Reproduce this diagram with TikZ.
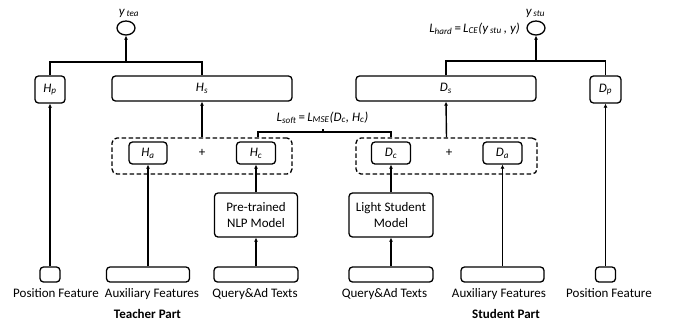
\documentclass[tikz,border=0pt]{standalone}
\usepackage{fontspec}
\setmainfont{Carlito}
\usetikzlibrary{arrows.meta,shapes.geometric}
\newcommand\lsub[2]{\textit{#1}\textsubscript{\textit{#2}}}
\begin{document}
\begin{tikzpicture}[x=1pt,y=-1pt,
  font=\fontsize{13}{16}\selectfont,
  box/.style={draw,line width=1.3pt,rounded corners=3.5pt,inner sep=0pt,align=center},
  dbox/.style={draw,line width=1.3pt,rounded corners=5pt,dash pattern=on 4.5pt off 2.5pt,inner sep=0pt},
  outc/.style={draw,line width=1.3pt,ellipse,minimum width=18pt,minimum height=14pt,inner sep=0pt},
  ln/.style={line width=1.4pt},
  arr/.style={line width=1.4pt,-{Latex[length=4pt,width=4pt]}},
  lab/.style={inner sep=0pt,anchor=base}]
\useasboundingbox (0,0) rectangle (681,325);
% ---------------- Teacher ----------------
\node[outc] (ytea) at (126,28) {};
\node[lab] (yteal) at (129,15) {\lsub{y}{\,tea}};
\node[box,minimum width=30pt,minimum height=27pt] (Hp) at (50,89.5) {\lsub{H}{p}};
\node[box,minimum width=180pt,minimum height=25pt] (Hs) at (202,88.5) {\lsub{H}{s}};
\node[dbox,minimum width=180pt,minimum height=36pt] (dashT) at (202,156) {};
\node[box,minimum width=38pt,minimum height=22pt] (Ha) at (148,153) {\lsub{H}{a}};
\node (plusT) at (202,153) {+};
\node[box,minimum width=39pt,minimum height=22pt] (Hc) at (256,153) {\lsub{H}{c}};
\node[box,minimum width=83pt,minimum height=44pt] (PT) at (256,215) {Pre-trained\\NLP Model};
\node[box,minimum width=20pt,minimum height=15pt] (posT) at (50,274.5) {};
\node[box,minimum width=83pt,minimum height=15pt] (auxT) at (148,274.5) {};
\node[box,minimum width=84pt,minimum height=15pt] (qT) at (256,274.5) {};
\node[lab] (posTl) at (56,297) {Position Feature};
\node[lab] (auxTl) at (152,297) {Auxiliary Features};
\node[lab] (qTl) at (255,297) {Query\&Ad Texts};
\node[lab] (tpart) at (147.5,318) {\bfseries Teacher Part};
% ---------------- Student ----------------
\node[outc] (ystu) at (536,28) {};
\node[lab] (ystul) at (535.5,15) {\lsub{y}{\,stu}};
\node[lab,anchor=base east] (lhard) at (520,32) {\lsub{L}{hard}\,=\,\lsub{L}{CE}\textit{(}\lsub{y}{\,stu}\textit{\,, y)}};
\node[box,minimum width=180pt,minimum height=25pt] (Ds) at (446,88.5) {\lsub{D}{s}};
\node[box,minimum width=31pt,minimum height=27pt] (Dp) at (605.5,89.5) {\lsub{D}{p}};
\node[dbox,minimum width=181pt,minimum height=36pt] (dashS) at (446.5,156) {};
\node[box,minimum width=39pt,minimum height=22pt] (Dc) at (391,153) {\lsub{D}{c}};
\node (plusS) at (449,153) {+};
\node[box,minimum width=39pt,minimum height=22pt] (Da) at (502.5,153) {\lsub{D}{a}};
\node[box,minimum width=84pt,minimum height=44pt] (LS) at (391,215) {Light Student\\Model};
\node[box,minimum width=84pt,minimum height=15pt] (qS) at (391,274.5) {};
\node[box,minimum width=83pt,minimum height=15pt] (auxS) at (502.5,274.5) {};
\node[box,minimum width=20pt,minimum height=15pt] (posS) at (605.5,274.5) {};
\node[lab] (qSl) at (384.5,297) {Query\&Ad Texts};
\node[lab] (auxSl) at (499,297) {Auxiliary Features};
\node[lab] (posSl) at (609,297) {Position Feature};
\node[lab] (spart) at (506,318) {\bfseries Student Part};
% ---------------- soft loss ----------------
\coordinate (sJ) at (323,132);
\node[lab] (lsoft) at (322.5,121) {\lsub{L}{soft}\,=\,\lsub{L}{MSE}\textit{(}\lsub{D}{c}\textit{, }\lsub{H}{c}\textit{)}};
% ---------------- connectors teacher ----------------
\draw[arr] (posT.north) -- (Hp.south);
\draw[arr] (auxT.north) -- (Ha.south);
\draw[arr] (qT.north) -- (PT.south);
\draw[arr] (PT.north) -- (Hc.south);
\draw[arr] (dashT.north) -- (Hs.south);
\coordinate (jT) at (126,62);
\draw[ln] (Hp.north) -- (Hp.north |- jT) -- (Hs.north |- jT) -- (Hs.north);
\draw[arr] (jT) -- (ytea.south);
% ---------------- connectors student ----------------
\draw[arr] (posS.north) -- (Dp.south);
\draw[arr] (auxS.north) -- (Da.south);
\draw[arr] (qS.north) -- (LS.south);
\draw[arr] (LS.north) -- (Dc.south);
\draw[arr] (dashS.north) -- (Ds.south);
\coordinate (jS) at (536,61);
\draw[ln] (Ds.north) -- (Ds.north |- jS) -- (Dp.north |- jS) -- (Dp.north);
\draw[arr] (jS) -- (ystu.south);
% ---------------- soft connector ----------------
\draw[ln] ([xshift=2pt]dashT.north -| Hc.north) |- (sJ) -| (dashS.north -| Dc.north);
\draw[ln] (sJ) -- ++(0,-3);
\end{tikzpicture}
\end{document}
